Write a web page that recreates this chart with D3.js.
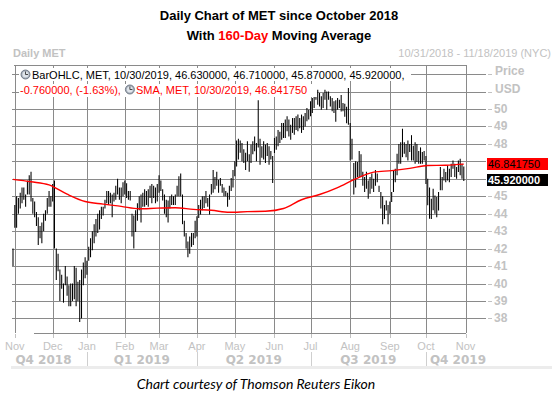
<!DOCTYPE html>
<html>
<head>
<meta charset="utf-8">
<script src="https://cdn.jsdelivr.net/npm/d3@7"></script>
<style>
	body { margin: 0; background: #fff; }
	svg text { font-family: "Liberation Sans", Arial, sans-serif; }
</style>
</head>
<body>
<svg id="chart" width="558" height="398"></svg>
<script>

// trading days per month, Nov 2018 .. Oct 2019 (first bar is 10/31/2018)
var monthNames = ["Nov", "Dec", "Jan", "Feb", "Mar", "Apr", "May", "Jun", "Jul", "Aug", "Sep", "Oct", "Nov"];
var monthDays = [21, 19, 21, 19, 21, 21, 22, 20, 22, 22, 20, 22];
var quarterNames = ["Q4 2018", "Q1 2019", "Q2 2019", "Q3 2019", "Q4 2019"];
var quarterStartMonths = [2, 5, 8, 11]; // Jan, Apr, Jul, Oct
var priceTicks = [38, 39, 40, 41, 42, 43, 44, 45, 46, 47, 48, 49, 50, 51, 52];

// daily highs / lows, one row per month
var highs = [42.0,
	44.5, 45.0, 44.9, 45.2, 45.5, 45.5, 45.1, 45.9, 46.2, 46.4, 44.9, 44.7, 44.1, 43.8, 43.3, 43.5, 44.0, 44.2, 44.9, 45.3, 45.0,
	45.7, 45.9, 42.0, 41.7, 40.8, 40.5, 40.0, 41.0, 40.4, 39.9, 40.0, 40.0, 41.0, 40.9, 40.1, 40.2, 40.8, 41.2, 41.5,
	41.3, 42.1, 42.6, 43.0, 43.4, 43.7, 44.0, 44.2, 44.4, 44.4, 44.8, 45.3, 45.3, 45.2, 45.1, 45.2, 45.6, 46.0, 45.5, 45.5, 45.8,
	45.9, 45.75, 45.3, 45.3, 44.0, 43.9, 44.2, 44.6, 45.0, 45.1, 45.2, 45.4, 45.3, 45.4, 45.6, 45.7, 45.6, 45.5, 45.7,
	46.2, 45.9, 45.4, 45.1, 44.8, 44.75, 45.0, 45.1, 45.0, 45.1, 45.6, 46.15, 46.3, 45.1, 43.6, 42.9, 42.4, 42.7, 42.9, 42.9, 43.6,
	43.85, 44.5, 44.8, 45.0, 45.0, 45.3, 44.9, 45.1, 45.7, 46.5, 46.1, 46.4, 45.95, 46.05, 45.7, 45.5, 45.3, 45.2, 45.6, 46.05, 46.5,
	47.0, 48.2, 48.3, 48.2, 48.05, 47.7, 47.5, 48.15, 47.4, 47.96, 48.15, 48.43, 48.05, 50.5, 48.3, 47.86, 48.15, 47.96, 48.05, 47.86, 47.6, 47.3,
	48.34, 48.43, 48.8, 48.7, 49.2, 49.2, 49.4, 49.58, 49.4, 49.1, 49.48, 49.48, 49.58, 49.68, 49.48, 49.68, 49.58, 49.77, 50.06, 49.96,
	50.44, 50.63, 50.92, 51.0, 51.1, 50.92, 50.73, 50.92, 51.1, 51.0, 51.0, 50.73, 50.63, 50.44, 50.5, 50.63, 50.53, 50.8, 50.34, 50.3, 50.13, 51.2,
	49.2, 48.3, 46.9, 47.0, 46.96, 47.6, 47.4, 46.4, 46.1, 46.4, 45.9, 46.1, 46.3, 46.0, 46.5, 46.3, 45.6, 45.24, 45.0, 44.5, 44.76, 44.5,
	44.7, 45.24, 46.5, 46.58, 47.43, 48.0, 48.1, 48.87, 48.1, 48.0, 48.2, 48.0, 48.5, 47.9, 48.1, 48.0, 47.6, 47.8, 47.53, 47.6,
	47.3, 46.0, 45.5, 44.86, 45.43, 45.05, 44.95, 45.24, 46.67, 46.1, 46.58, 46.39, 46.77, 46.58, 46.86, 47.05, 46.86, 46.67, 47.05, 47.15, 46.86, 46.71];

var lows = [41.0,
	43.2, 43.2, 44.0, 44.3, 44.6, 44.8, 44.4, 45.1, 45.1, 44.7, 44.0, 43.8, 43.3, 42.2, 42.6, 42.3, 43.0, 43.6, 44.0, 44.4, 44.4,
	44.7, 42.0, 40.2, 40.7, 39.0, 39.7, 38.9, 39.9, 39.3, 38.7, 38.7, 39.0, 39.1, 38.7, 39.0, 37.8, 38.0, 39.9, 40.3,
	40.5, 41.3, 41.5, 41.9, 42.3, 42.7, 42.9, 43.1, 43.7, 43.9, 44.3, 44.6, 44.5, 44.6, 43.8, 44.7, 44.8, 45.1, 44.8, 44.6, 45.0,
	45.1, 44.9, 44.8, 44.75, 42.7, 42.0, 42.95, 43.6, 44.2, 43.5, 44.4, 44.4, 44.5, 44.4, 44.9, 44.6, 44.9, 44.6, 44.7,
	45.2, 45.3, 44.75, 44.0, 43.8, 43.5, 44.3, 44.5, 44.5, 44.5, 45.0, 45.0, 45.0, 43.4, 42.7, 42.0, 41.5, 41.7, 42.1, 42.2, 42.6,
	42.7, 43.76, 43.95, 44.2, 44.33, 44.6, 44.4, 43.95, 45.1, 45.2, 45.4, 45.6, 45.2, 45.6, 45.2, 45.0, 45.0, 44.4, 44.8, 45.3, 45.5,
	46.15, 46.7, 47.1, 47.5, 47.0, 46.9, 46.5, 47.0, 46.4, 46.9, 47.4, 47.58, 47.0, 47.8, 46.8, 47.2, 47.1, 46.9, 47.3, 46.8, 47.1, 45.76,
	47.48, 47.67, 47.86, 48.05, 48.24, 48.34, 48.34, 48.72, 48.43, 48.24, 48.63, 48.53, 48.8, 48.72, 48.9, 48.63, 48.8, 49.0, 49.3, 49.4,
	49.58, 49.77, 50.06, 50.53, 50.25, 50.15, 49.96, 50.06, 50.53, 49.96, 50.53, 50.15, 49.87, 49.77, 49.27, 49.96, 50.06, 49.85, 49.87, 49.56, 49.18, 49.1,
	47.05, 47.1, 45.1, 45.5, 46.1, 46.1, 46.1, 45.6, 45.24, 45.43, 44.86, 45.14, 45.43, 45.24, 45.6, 45.8, 45.24, 44.3, 43.4, 43.7, 44.19, 43.4,
	44.0, 44.67, 45.24, 45.8, 46.2, 46.86, 46.86, 47.24, 47.43, 47.24, 47.05, 47.53, 47.05, 47.05, 46.86, 46.96, 46.86, 46.86, 46.86, 47.05,
	45.7, 44.48, 43.71, 43.7, 44.2, 44.0, 43.8, 44.19, 45.34, 45.34, 45.9, 45.8, 45.9, 45.8, 46.1, 46.58, 46.1, 46.0, 46.39, 46.2, 46.0, 45.87];

// 160-day SMA, read every 10 bars
var smaIndex = [0, 10, 20, 30, 40, 50, 60, 70, 80, 90, 100, 110, 120, 130, 140, 150, 160, 170, 180, 190, 200, 210, 220, 230, 240, 250];
var smaValues = [45.97, 45.83, 45.65, 45.12, 44.7, 44.55, 44.42, 44.28, 44.32, 44.34, 44.25, 44.2, 44.08, 44.12, 44.14, 44.3, 44.8, 45.1, 45.5, 46.0, 46.38, 46.47, 46.6, 46.76, 46.78, 46.84];

var lastClose = 45.92,
	lastSma = 46.84175;

(function(){

	var svg = d3.select('#chart');
	var gridColor = '#8a8a8a',
		lightText = '#c2c2c2';

	var plotTop = 65, plotBottom = 333, plotRight = 466, gridRight = 486;

	var x = d3.scaleLinear().domain([0, 251]).range([13, 465.6]);
	var y = d3.scaleLinear().domain([38, 50]).range([318.4, 109]);

	var monthStart = [1];
	monthDays.forEach(function (d, i) { monthStart.push(monthStart[i] + d); });

	// titles
	var title = svg.append('g').style('font-family', 'Lato, "Liberation Sans", sans-serif')
		.style('font-weight', 'bold').style('font-size', '13px').attr('text-anchor', 'middle');
	title.append('text').attr('x', 279).attr('y', 20).text('Daily Chart of MET since October 2018');
	var t2 = title.append('text').attr('x', 279).attr('y', 40);
	t2.append('tspan').text('With ');
	t2.append('tspan').attr('fill', '#ff0000').text('160-Day');
	t2.append('tspan').text(' Moving Average');

	svg.append('text').attr('x', 13).attr('y', 57).attr('fill', lightText)
		.style('font-size', '11px').style('font-weight', 'bold').text('Daily MET');
	svg.append('text').attr('x', 551).attr('y', 57).attr('fill', lightText).attr('text-anchor', 'end')
		.style('font-size', '11px').text('10/31/2018 - 11/18/2019 (NYC)');

	// horizontal grid + right axis
	var grid = svg.append('g');
	grid.selectAll('line.h').data(priceTicks).enter().append('line')
		.attr('x1', 12).attr('x2', gridRight)
		.attr('y1', function (d) { return Math.round(y(d)) + 0.5; })
		.attr('y2', function (d) { return Math.round(y(d)) + 0.5; })
		.attr('stroke', gridColor);
	grid.selectAll('line.t').data(priceTicks).enter().append('line')
		.attr('x1', 488).attr('x2', 492)
		.attr('y1', function (d) { return Math.round(y(d)) + 0.5; })
		.attr('y2', function (d) { return Math.round(y(d)) + 0.5; })
		.attr('stroke', lightText);
	// labels hidden behind the value boxes are left out
	var shown = priceTicks.filter(function (d) {
		return d <= 50 && Math.abs(y(d) - y(lastClose)) > 7 && Math.abs(y(d) - y(lastSma)) > 7;
	});
	grid.selectAll('text').data(shown).enter().append('text')
		.attr('x', 494).attr('y', function (d) { return y(d) + 4; })
		.attr('fill', lightText).style('font-size', '12px').style('font-weight', 'bold')
		.text(function (d) { return d; });
	svg.append('text').attr('x', 495).attr('y', y(52) + 1).attr('fill', lightText)
		.style('font-size', '12px').style('font-weight', 'bold').text('Price');
	svg.append('text').attr('x', 495).attr('y', y(51) + 1).attr('fill', lightText)
		.style('font-size', '12px').style('font-weight', 'bold').text('USD');

	// vertical month grid
	grid.selectAll('line.v').data(monthStart).enter().append('line')
		.attr('x1', function (d) { return Math.round(x(d)) + 0.5; })
		.attr('x2', function (d) { return Math.round(x(d)) + 0.5; })
		.attr('y1', plotTop).attr('y2', plotBottom)
		.attr('stroke', gridColor);

	// frame
	svg.append('line').attr('x1', 14).attr('x2', plotRight).attr('y1', plotTop + 0.5).attr('y2', plotTop + 0.5).attr('stroke', gridColor);
	svg.append('line').attr('x1', 34).attr('x2', plotRight).attr('y1', plotBottom + 0.5).attr('y2', plotBottom + 0.5).attr('stroke', gridColor);

	// bars
	svg.append('g').selectAll('line').data(highs).enter().append('line')
		.attr('x1', function (d, i) { return x(i); })
		.attr('x2', function (d, i) { return x(i); })
		.attr('y1', function (d) { return y(d); })
		.attr('y2', function (d, i) { return y(lows[i]); })
		.attr('stroke', '#000').attr('stroke-width', 1.05);

	// SMA
	var smaLine = d3.line()
		.x(function (d, i) { return x(smaIndex[i]); })
		.y(function (d) { return y(d); })
		.curve(d3.curveMonotoneX);
	svg.append('path').datum(smaValues).attr('d', smaLine)
		.attr('fill', 'none').attr('stroke', '#ff0000').attr('stroke-width', 1.4);

	// legend
	var legend = svg.append('g').style('font-size', '11px');
	function clock(cx, cy) {
		var g = legend.append('g').attr('transform', 'translate(' + cx + ',' + cy + ')');
		g.append('circle').attr('r', 4.5).attr('fill', '#aab2bd').attr('stroke', '#5b6472').attr('stroke-width', 0.8);
		g.append('circle').attr('r', 3).attr('fill', '#dfe4ea');
		g.append('path').attr('d', 'M0,0V-3M0,0H2.5').attr('stroke', '#333').attr('stroke-width', 0.9);
	}
	legend.append('rect').attr('x', 19).attr('y', 68).attr('width', 392).attr('height', 13).attr('fill', '#fff');
	legend.append('rect').attr('x', 19).attr('y', 84).attr('width', 298).attr('height', 13).attr('fill', '#fff');
	clock(25.5, 74.5);
	legend.append('text').attr('x', 32).attr('y', 79)
		.text('BarOHLC, MET, 10/30/2019, 46.630000, 46.710000, 45.870000, 45.920000,');
	var l2 = legend.append('text').attr('x', 20).attr('y', 94).attr('fill', '#ff0000')
		.text('-0.760000, (-1.63%),');
	var w2 = l2.node().getComputedTextLength();
	clock(20 + w2 + 9, 89.5);
	legend.append('text').attr('x', 20 + w2 + 15).attr('y', 94).attr('fill', '#ff0000')
		.text('SMA, MET, 10/30/2019, ' + lastSma.toFixed(6));

	// value boxes
	var boxes = [{v: lastSma, bg: '#ff0000', fg: '#000', w: 'normal'},
		{v: lastClose, bg: '#000', fg: '#fff', w: 'bold'}];
	var bx = svg.append('g').selectAll('g').data(boxes).enter().append('g');
	bx.append('rect').attr('x', 487).attr('width', 61)
		.attr('y', function (d) { return Math.round(y(d.v)) - 6; }).attr('height', 12)
		.attr('fill', function (d) { return d.bg; });
	bx.append('text').attr('x', 488).attr('y', function (d) { return Math.round(y(d.v)) + 4; })
		.attr('fill', function (d) { return d.fg; }).style('font-weight', function (d) { return d.w; })
		.style('font-size', '11px').text(function (d) { return d.v.toFixed(6); });

	// bottom axis
	var axis = svg.append('g');
	axis.selectAll('line').data(monthStart).enter().append('line')
		.attr('x1', function (d) { return Math.round(x(d)) + 0.5; })
		.attr('x2', function (d) { return Math.round(x(d)) + 0.5; })
		.attr('y1', plotBottom + 1).attr('y2', plotBottom + 5).attr('stroke', lightText);
	axis.selectAll('text').data(monthStart).enter().append('text')
		.attr('x', function (d) { return x(d); }).attr('y', 350)
		.attr('text-anchor', 'middle').attr('fill', lightText).style('font-size', '11px')
		.text(function (d, i) { return monthNames[i]; });

	var qBounds = [0].concat(quarterStartMonths.map(function (m) { return x(monthStart[m]); }), [490]);
	axis.selectAll('line.q').data(quarterStartMonths).enter().append('line')
		.attr('x1', function (m) { return Math.round(x(monthStart[m])) + 0.5; })
		.attr('x2', function (m) { return Math.round(x(monthStart[m])) + 0.5; })
		.attr('y1', 352).attr('y2', 366).attr('stroke', '#cfcfcf');
	axis.selectAll('text.q').data(quarterNames).enter().append('text')
		.attr('x', function (d, i) { return (qBounds[i] + qBounds[i + 1]) / 2; }).attr('y', 364)
		.attr('text-anchor', 'middle').attr('fill', lightText)
		.style('font-size', '12px').style('font-weight', 'bold')
		.style('font-family', '"DejaVu Sans", sans-serif')
		.text(function (d) { return d; });
	svg.append('rect').attr('x', 11).attr('y', 366).attr('width', 541).attr('height', 3).attr('fill', '#ececec');

	svg.append('text').attr('x', 256).attr('y', 389).attr('text-anchor', 'middle')
		.style('font-family', 'Lato, sans-serif').style('font-style', 'italic').style('font-size', '14px')
		.text('Chart courtesy of Thomson Reuters Eikon');

})();
</script>
</body>
</html>
